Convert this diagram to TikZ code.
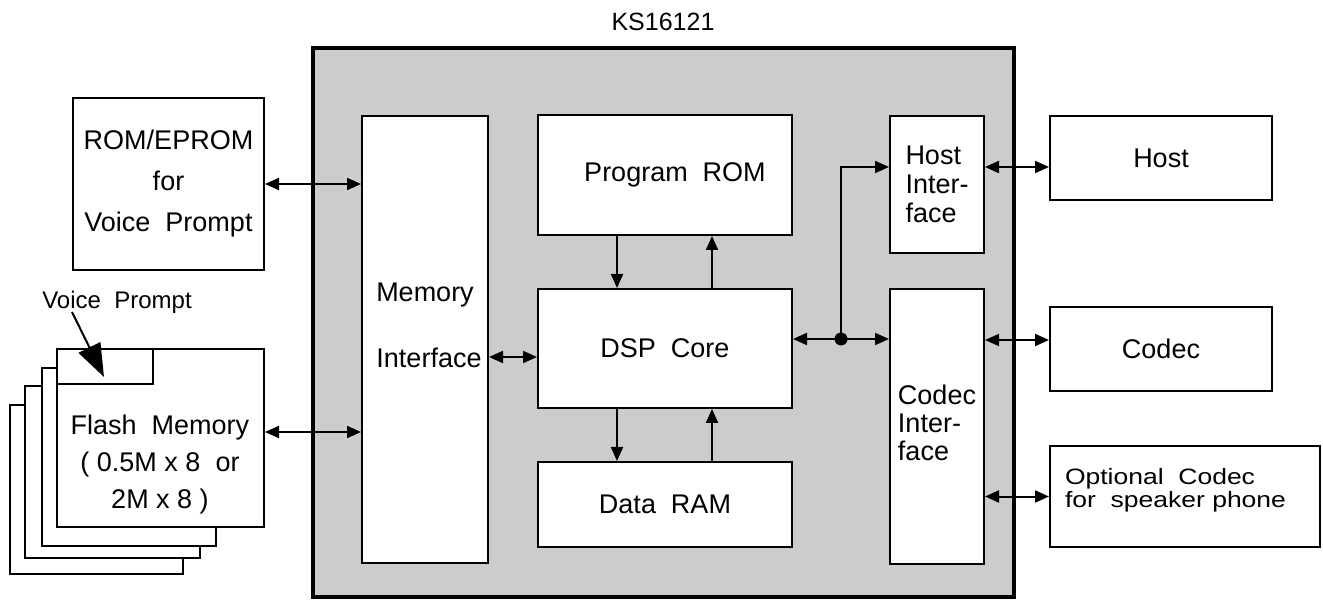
\documentclass[tikz,border=0pt]{standalone}
\usepackage{fontspec}
\setmainfont{Liberation Sans}
\usetikzlibrary{positioning, arrows.meta}
\definecolor{chipgray}{RGB}{204,204,204}

\begin{document}
\begin{tikzpicture}[x=1pt, y=-1pt, line width=2pt,
        font=\fontsize{27}{29}\selectfont,
        blk/.style={draw, fill=white, rectangle, inner sep=0pt, align=center},
        txt/.style={inner sep=0pt, align=center},
        dbl/.style={{Triangle[length=14pt,width=12pt]}-{Triangle[length=14pt,width=12pt]}},
        sgl/.style={-{Triangle[length=14pt,width=12pt]}}]
        \useasboundingbox (0,0) rectangle (1323,601);

        % chip
        \node[blk, fill=chipgray, line width=4pt, minimum width=701pt, minimum height=549pt] (chip) at (663.5,322.5) {};
        \node[txt, font=\fontsize{25}{27}\selectfont] (title) at (663,22) {KS16121};

        \node[blk, minimum width=126pt, minimum height=447pt] (memif) at (425,339.5) {};
        \node[txt] (memlbl) at (425,295) {Memory};
        \node[txt] (iflbl) at (429,358) {Interface};
        \node[blk, minimum width=254pt, minimum height=120pt] (prog) at (665,175) {};
        \node[txt] (proglbl) at (675,175) {Program\ \ ROM};
        \node[blk, minimum width=254pt, minimum height=119pt] (dsp) at (665,348.5) {DSP\ \ Core};
        \node[blk, minimum width=254pt, minimum height=85pt] (ram) at (665,504.5) {Data\ \ RAM};
        \node[blk, minimum width=94pt, minimum height=137pt] (hostif) at (937,184.5) {};
        \node[txt] (hostiflbl) at (937,188) {\begin{tabular}{@{}l@{}}Host\\Inter-\\face\end{tabular}};
        \node[blk, minimum width=94pt, minimum height=275pt, font=\fontsize{27}{28}\selectfont] (codecif) at (937,426.5) {\begin{tabular}{@{}l@{}}Codec\\Inter-\\face\end{tabular}};

        % outside parts
        \node[blk, minimum width=191pt, minimum height=172pt, font=\fontsize{27}{41}\selectfont] (rom) at (168.5,184) {ROM/EPROM\\for\\Voice\ \ Prompt};
        \node[blk, minimum width=222pt, minimum height=84pt] (host) at (1161,158) {Host};
        \node[blk, minimum width=222pt, minimum height=84pt] (codec) at (1161,349) {Codec};
        \node[blk, minimum width=270pt, minimum height=101pt] (opt) at (1185,496.5) {};
        \node[txt, anchor=west, font=\fontsize{26.5}{26}\selectfont] (optlbl) at (1064,491) {\scalebox{1}[0.84]{\begin{tabular}{@{}l@{}}Optional\ \ Codec\\for\ \ speaker phone\end{tabular}}};

        % flash pages
        \node[blk, minimum width=173pt, minimum height=169pt] (page4) at (96.5,489.5) {};
        \node[blk, minimum width=175pt, minimum height=172pt] (page3) at (112.5,472) {};
        \node[blk, minimum width=174pt, minimum height=178pt] (page2) at (129,457) {};
        \node[blk, minimum width=207pt, minimum height=178pt] (flash) at (160.5,438) {};
        \node[txt, font=\fontsize{27}{37}\selectfont] (flashlbl) at (160,465) {Flash\ \ Memory\\( 0.5M x 8\ \ or\\2M x 8 )};
        \coordinate (tab) at (153,384);
        \draw (flash.west |- tab) -- (tab) -- (tab |- flash.north);
        \node[txt, font=\fontsize{24}{25}\selectfont] (vplabel) at (117,302) {Voice\ \ Prompt};
        \coordinate (vpfoot) at (72,312);
        \coordinate (tabtip) at (104,377);
        \draw[-{Triangle[length=33pt,width=24pt]}] (vpfoot) -- (tabtip);

        % connections
        \draw[dbl] (rom.east) -- (rom.east -| memif.west);
        \draw[dbl] ([yshift=6pt]flash.east) -- ([yshift=6pt]flash.east -| memif.west);
        \draw[dbl] ([yshift=-8.5pt]dsp.west) -- ([yshift=-8.5pt]dsp.west -| memif.east);
        \draw[sgl] ([xshift=-48pt]prog.south) -- ([xshift=-48pt]dsp.north);
        \draw[sgl] ([xshift=47pt]dsp.north) -- ([xshift=47pt]prog.south);
        \draw[sgl] ([xshift=-48pt]dsp.south) -- ([xshift=-48pt]ram.north);
        \draw[sgl] ([xshift=47pt]ram.north) -- ([xshift=47pt]dsp.south);

        \coordinate (bus) at (841,339);
        \draw[sgl] (bus) -- (bus -| dsp.east);
        \draw[sgl] (bus) -- (bus -| codecif.west);
        \draw[sgl] (bus) |- ([yshift=17.5pt]hostif.west);
        \fill (bus) circle (6.5pt);

        \draw[dbl] ([yshift=17.5pt]hostif.east) -- ([yshift=17.5pt]hostif.east -| host.west);
        \draw[dbl] ([yshift=9pt]codec.west) -- ([yshift=9pt]codec.west -| codecif.east);
        \draw[dbl] (opt.west) -- (opt.west -| codecif.east);
    \end{tikzpicture}
\end{document}
